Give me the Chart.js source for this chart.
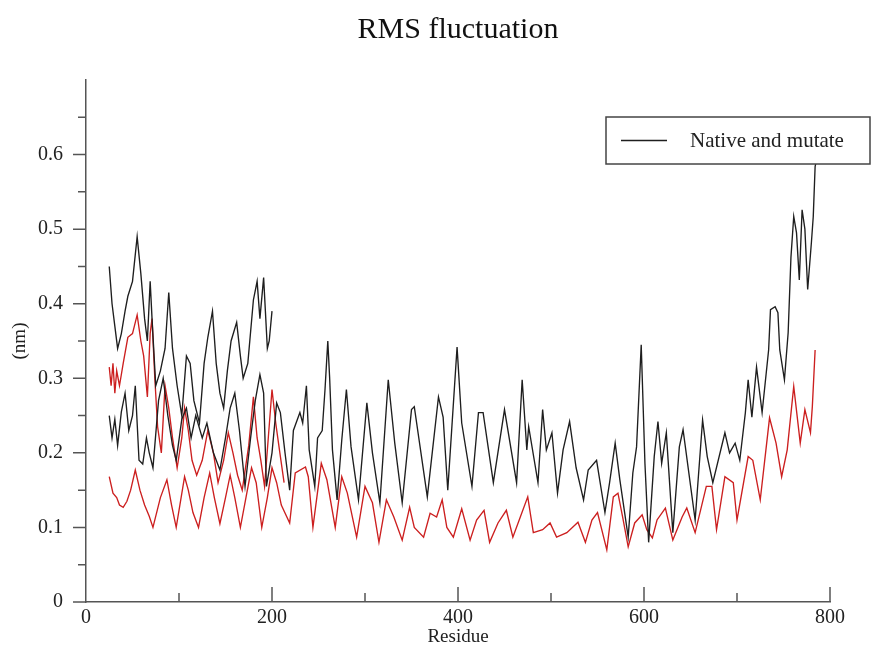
<!DOCTYPE html>
<html>
<head>
<meta charset="utf-8">
<script src="https://cdn.jsdelivr.net/npm/chart.js@4.4.1/dist/chart.umd.min.js"></script>
<style>
  html, body { margin: 0; padding: 0; background: #fff; }
  #wrap { width: 871px; height: 650px; }
</style>
</head>
<body>
<div id="wrap"><canvas id="rmsf"></canvas></div>
<script>
// [residue, rmsf (nm)]
const blackUpper = [[25,0.45],[28,0.40],[31,0.37],[34,0.34],[38,0.36],[42,0.39],[45,0.41],[50,0.43],[55,0.49],[59,0.44],
  [63,0.38],[66,0.35],[69,0.43],[71,0.38],[75,0.29],[80,0.31],[85,0.34],[89,0.415],[93,0.34],[98,0.29],
  [103,0.25],[108,0.33],[112,0.32],[116,0.27],[122,0.24],[127,0.32],[131,0.355],[136,0.39],[140,0.32],[144,0.28],
  [148,0.26],[152,0.31],[156,0.35],[162,0.375],[166,0.33],[169,0.30],[174,0.32],[180,0.405],[184,0.43],[187,0.38],
  [191,0.435],[195,0.34],[197,0.35],[200,0.39]];

const blackLong = [[25,0.25],[28,0.22],[31,0.245],[34,0.21],[38,0.255],[42,0.28],[46,0.23],[50,0.25],[53,0.29],[57,0.19],
  [61,0.185],[65,0.22],[68,0.20],[72,0.18],[78,0.27],[83,0.30],[88,0.25],[93,0.21],[97,0.19],[103,0.245],
  [108,0.26],[113,0.22],[118,0.25],[125,0.22],[130,0.24],[137,0.20],[144,0.177],[150,0.22],[155,0.26],[160,0.28],
  [165,0.23],[171,0.155],[177,0.22],[182,0.27],[187,0.305],[191,0.28],[194,0.155],[200,0.20],[205,0.267],[209,0.254],
  [214,0.20],[219,0.15],[223,0.23],[230,0.254],[233,0.24],[237,0.29],[240,0.204],[246,0.155],[249,0.22],[254,0.23],
  [257,0.285],[260,0.35],[262,0.30],[265,0.204],[270,0.137],[275,0.217],[280,0.285],[285,0.208],[293,0.137],[302,0.267],
  [308,0.20],[316,0.133],[325,0.298],[332,0.213],[340,0.133],[350,0.258],[353,0.262],[367,0.141],[379,0.275],[384,0.248],
  [389,0.15],[399,0.342],[404,0.24],[415,0.155],[422,0.254],[427,0.254],[438,0.16],[450,0.258],[463,0.16],[469,0.298],
  [474,0.204],[476,0.235],[486,0.16],[491,0.258],[495,0.204],[501,0.227],[507,0.146],[513,0.204],[520,0.242],[527,0.18],
  [535,0.137],[540,0.177],[549,0.19],[558,0.12],[563,0.16],[569,0.213],[574,0.164],[583,0.087],[588,0.173],[592,0.208],
  [597,0.345],[601,0.186],[605,0.08],[611,0.195],[615,0.242],[619,0.186],[624,0.227],[631,0.093],[638,0.208],[642,0.231],
  [655,0.11],[663,0.244],[668,0.195],[674,0.16],[687,0.227],[692,0.20],[698,0.213],[703,0.19],[709,0.254],[712,0.298],
  [716,0.248],[721,0.315],[727,0.254],[734,0.338],[736,0.392],[741,0.396],[744,0.388],[746,0.338],[751,0.298],[755,0.361],
  [758,0.462],[761,0.517],[764,0.495],[767,0.432],[770,0.526],[773,0.50],[776,0.419],[780,0.482],[782,0.517],[784,0.584],
  [785,0.59]];

const redUpper = [[25,0.315],[27,0.29],[29,0.32],[31,0.28],[33,0.31],[36,0.29],[40,0.32],[45,0.355],[50,0.36],[55,0.385],
  [59,0.35],[62,0.33],[66,0.275],[69,0.36],[71,0.38],[74,0.30],[77,0.235],[81,0.20],[85,0.29],[89,0.26],
  [93,0.22],[98,0.18],[103,0.22],[106,0.26],[110,0.23],[114,0.19],[119,0.17],[125,0.19],[131,0.23],[137,0.20],
  [142,0.16],[148,0.19],[153,0.227],[158,0.20],[163,0.17],[168,0.15],[175,0.21],[180,0.275],[184,0.22],[188,0.19],
  [192,0.155],[196,0.22],[200,0.285],[204,0.24],[208,0.204],[213,0.16]];

const redLong = [[25,0.168],[29,0.146],[33,0.14],[36,0.13],[40,0.127],[44,0.135],[48,0.15],[53,0.177],[58,0.15],[63,0.13],
  [68,0.115],[72,0.10],[80,0.14],[87,0.164],[92,0.13],[97,0.10],[106,0.168],[110,0.15],[115,0.12],[121,0.10],
  [127,0.14],[133,0.173],[138,0.14],[144,0.105],[150,0.14],[155,0.17],[160,0.14],[166,0.10],[172,0.14],[178,0.18],
  [183,0.16],[189,0.10],[195,0.14],[200,0.18],[205,0.16],[210,0.13],[219,0.106],[225,0.173],[236,0.181],[239,0.168],
  [244,0.10],[253,0.186],[259,0.164],[268,0.10],[275,0.168],[281,0.146],[291,0.087],[300,0.155],[308,0.133],[315,0.08],
  [323,0.137],[331,0.114],[340,0.083],[348,0.127],[353,0.10],[363,0.087],[370,0.119],[377,0.114],[383,0.137],[388,0.10],
  [395,0.087],[404,0.125],[413,0.083],[420,0.11],[428,0.123],[434,0.08],[443,0.106],[452,0.123],[459,0.087],[467,0.114],
  [475,0.141],[481,0.093],[491,0.097],[499,0.106],[506,0.087],[517,0.093],[529,0.107],[537,0.08],[544,0.11],[550,0.12],
  [560,0.07],[567,0.141],[572,0.146],[577,0.114],[583,0.074],[590,0.106],[598,0.117],[603,0.097],[609,0.086],[614,0.11],
  [623,0.126],[631,0.083],[641,0.114],[646,0.126],[655,0.093],[667,0.155],[673,0.155],[678,0.097],[687,0.168],[696,0.16],
  [700,0.11],[712,0.195],[717,0.19],[725,0.137],[735,0.247],[742,0.213],[748,0.168],[754,0.204],[761,0.289],[768,0.213],
  [773,0.258],[779,0.227],[781,0.262],[784,0.338]];

const yMajorTicks = [0, 0.1, 0.2, 0.3, 0.4, 0.5, 0.6];
const yMinorTicks = [0.05, 0.15, 0.25, 0.35, 0.45, 0.55, 0.65];
const xMajorTicks = [200, 400, 600, 800];
const xMinorTicks = [100, 300, 500, 700];

const SERIF = "'Liberation Serif', 'DejaVu Serif', serif";
const AXIS = '#555';

const toXY = pairs => pairs.map(p => ({ x: p[0], y: p[1] }));

// ticks: y outward to the left, x inward (upwards)
const tickMarks = {
    id: 'tickMarks',
    afterDraw(chart) {
        const { ctx, scales: { x, y }, chartArea: a } = chart;
        ctx.save();
        ctx.strokeStyle = AXIS;
        ctx.lineWidth = 1.5;
        ctx.beginPath();
        yMajorTicks.forEach(v => { const py = y.getPixelForValue(v); ctx.moveTo(a.left - 13, py); ctx.lineTo(a.left, py); });
        yMinorTicks.forEach(v => { const py = y.getPixelForValue(v); ctx.moveTo(a.left - 8, py); ctx.lineTo(a.left, py); });
        xMajorTicks.forEach(v => { const px = x.getPixelForValue(v); ctx.moveTo(px, a.bottom); ctx.lineTo(px, a.bottom - 15); });
        xMinorTicks.forEach(v => { const px = x.getPixelForValue(v); ctx.moveTo(px, a.bottom); ctx.lineTo(px, a.bottom - 9); });
        ctx.stroke();
        ctx.restore();
    }
};

// boxed legend in the upper right, as in the original
const boxLegend = {
    id: 'boxLegend',
    afterDraw(chart) {
        const { ctx, chartArea: a } = chart;
        const ds = chart.data.datasets[0];
        const left = a.right - 224, top = a.top + 37, w = 264, h = 47;
        ctx.save();
        ctx.fillStyle = '#fff';
        ctx.fillRect(left, top, w, h);
        ctx.strokeStyle = '#444';
        ctx.lineWidth = 1.5;
        ctx.strokeRect(left, top, w, h);
        ctx.strokeStyle = ds.borderColor;
        ctx.lineWidth = 1.3;
        ctx.beginPath();
        ctx.moveTo(left + 15, top + h / 2);
        ctx.lineTo(left + 61, top + h / 2);
        ctx.stroke();
        ctx.fillStyle = '#222';
        ctx.font = "21px " + SERIF;
        ctx.textBaseline = 'middle';
        ctx.fillText(ds.label, left + 84, top + h / 2 + 1);
        ctx.restore();
    }
};

const line = (label, pairs, color) => ({
    label: label,
    data: toXY(pairs),
    borderColor: color,
    backgroundColor: color,
    borderWidth: 1.35,
    pointRadius: 0,
    tension: 0,
    fill: false
});

new Chart(document.getElementById('rmsf').getContext('2d'), {
    type: 'line',
    data: {
        datasets: [
            line('Native and mutate', blackLong, '#1e1e1e'),
            line('Native', blackUpper, '#1e1e1e'),
            line('Mutate', redLong, '#cc1f1f'),
            line('Mutate (2)', redUpper, '#cc1f1f'),
        ]
    },
    options: {
        responsive: true,
        maintainAspectRatio: false,
        animation: false,
        layout: { padding: { left: 0, right: 41, top: 0, bottom: 0 } },
        plugins: {
            legend: { display: false },
            tooltip: { enabled: false },
            title: {
                display: true,
                fullSize: false,
                text: 'RMS fluctuation',
                color: '#111',
                font: { family: SERIF, size: 30, weight: 'normal' },
                padding: { top: 12, bottom: 32 }
            }
        },
        scales: {
            x: {
                type: 'linear',
                min: 0,
                max: 800,
                afterFit: s => { s.height = 48; },
                grid: { display: true, drawOnChartArea: false, drawTicks: false, color: 'rgba(0,0,0,0)' },
                border: { display: true, color: AXIS, width: 1.5 },
                ticks: {
                    stepSize: 200,
                    autoSkip: false,
                    maxRotation: 0,
                    padding: 4,
                    color: '#222',
                    font: { family: SERIF, size: 20 }
                },
                title: {
                    display: true,
                    text: 'Residue',
                    color: '#222',
                    font: { family: SERIF, size: 19 },
                    padding: { top: 0, bottom: 2 }
                }
            },
            y: {
                min: 0,
                max: 0.7,
                afterFit: s => { s.width = 86; },
                grid: { display: true, drawOnChartArea: false, drawTicks: false, color: 'rgba(0,0,0,0)' },
                border: { display: true, color: AXIS, width: 1.5 },
                ticks: {
                    stepSize: 0.1,
                    padding: 23,
                    color: '#222',
                    font: { family: SERIF, size: 20 },
                    callback: v => (v > 0.65 ? '' : String(+v.toFixed(1)))
                },
                title: {
                    display: true,
                    text: '(nm)',
                    color: '#222',
                    font: { family: SERIF, size: 19 },
                    padding: { top: 9, bottom: 0 }
                }
            }
        }
    },
    plugins: [tickMarks, boxLegend]
});
</script>
</body>
</html>
